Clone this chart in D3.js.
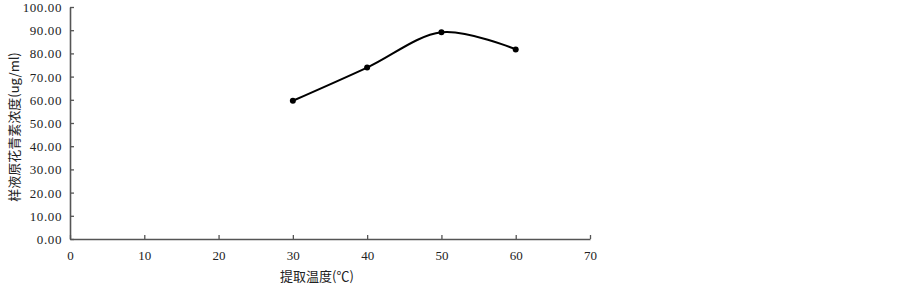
<!DOCTYPE html>
<html>
<head>
<meta charset="utf-8">
<script src="https://cdn.jsdelivr.net/npm/d3@7"></script>
<style>
  body { margin: 0; background: #fff; }
  svg text { fill: #222; }
</style>
</head>
<body>
<div id="chart"></div>
<script>
// temperature (°C) and anthocyanin concentration (ug/ml)
const temps = [30, 40, 50, 60];
const concs = [59.6, 73.9, 89.1, 81.7];
const xTicks = [0, 10, 20, 30, 40, 50, 60, 70];
const yTicks = [0, 10, 20, 30, 40, 50, 60, 70, 80, 90, 100];
const xTitle = '提取温度(℃)';
const yTitle = '样液原花青素浓度(ug/ml)';

const width = 902, height = 284;
const margin = {top: 7, right: 312, bottom: 45, left: 70};
const innerW = width - margin.left - margin.right;
const innerH = height - margin.top - margin.bottom;

const svg = d3.select('#chart').append('svg')
    .attr('width', width)
    .attr('height', height);

const chart = svg.append('g')
    .attr('transform', `translate(${margin.left},${margin.top})`);

const xScale = d3.scaleLinear().domain([0, 70]).range([0, innerW]);
const yScale = d3.scaleLinear().domain([0, 100]).range([innerH, 0]);

const numFont = '"Liberation Serif", "DejaVu Serif", serif';
const cjkFont = '"Noto Sans CJK SC", sans-serif';

// x axis, ticks pointing up into the plot
const xAxisG = chart.append('g')
    .attr('transform', `translate(0,${innerH})`)
    .call(d3.axisBottom(xScale).tickValues(xTicks).tickSize(-4).tickPadding(12).tickSizeOuter(0));

// y axis, ticks pointing right
const yAxisG = chart.append('g')
    .call(d3.axisLeft(yScale).tickValues(yTicks).tickSize(-4).tickPadding(8)
        .tickSizeOuter(0).tickFormat(d3.format('.2f')));

[xAxisG, yAxisG].forEach(g => {
    g.select('.domain').attr('stroke', '#555').attr('stroke-width', 1.6);
    g.selectAll('.tick line').attr('stroke', '#555').attr('stroke-width', 1.3);
    g.selectAll('.tick text')
        .style('font-family', numFont)
        .style('font-size', '13px')
        .attr('fill', '#222');
});
yAxisG.selectAll('.tick text').attr('dx', '0').attr('dy', '0.35em')
    .style('letter-spacing', '0.6px');

// smoothed line
const points = temps.map((t, i) => ({t, c: concs[i]}));
const line = d3.line()
    .x(d => xScale(d.t))
    .y(d => yScale(d.c))
    .curve(d3.curveCardinal.tension(0));

chart.append('path')
    .datum(points)
    .attr('fill', 'none')
    .attr('stroke', '#000')
    .attr('stroke-width', 2)
    .attr('d', line);

chart.selectAll('.pt')
    .data(points)
    .join('circle')
    .attr('class', 'pt')
    .attr('cx', d => xScale(d.t))
    .attr('cy', d => yScale(d.c))
    .attr('r', 3)
    .attr('fill', '#000');

// axis titles
svg.append('text')
    .attr('x', 317)
    .attr('y', 281)
    .attr('text-anchor', 'middle')
    .style('font-family', cjkFont)
    .style('font-size', '13px')
    .text(xTitle);

svg.append('text')
    .attr('transform', 'translate(19,127) rotate(-90)')
    .attr('text-anchor', 'middle')
    .style('font-family', cjkFont)
    .style('font-size', '13px')
    .text(yTitle);
</script>
</body>
</html>
